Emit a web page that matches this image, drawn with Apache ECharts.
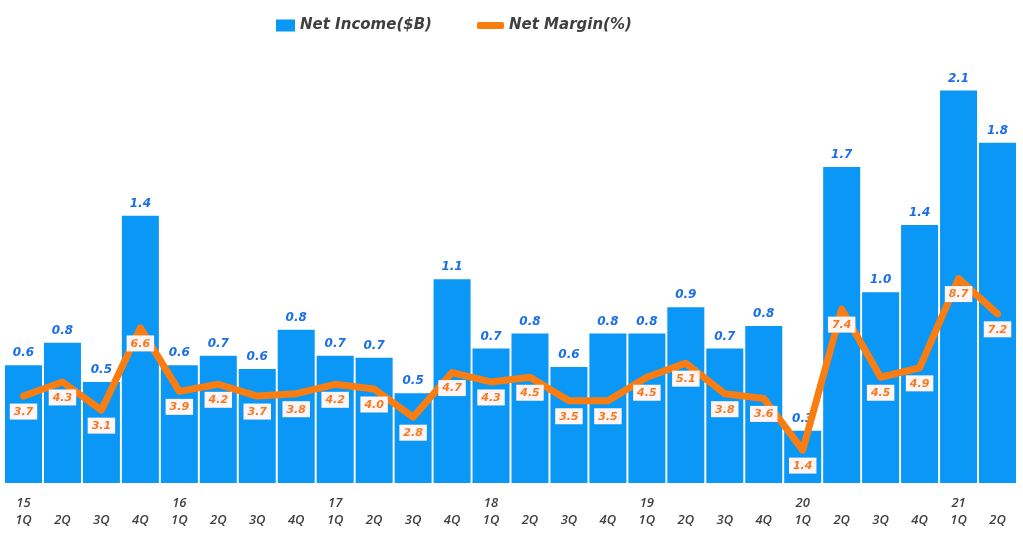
<!DOCTYPE html>
<html>
<head>
<meta charset="utf-8">
<script src="https://cdn.jsdelivr.net/npm/echarts@6/dist/echarts.min.js"></script>
<style>
html,body{margin:0;padding:0;background:#fff;}
#chart{width:1023px;height:535px;}
</style>
</head>
<body>
<div id="chart"></div>
<script>
const years = ['15','','','','16','','','','17','','','','18','','','','19','','','','20','','','','21',''];
const quarters = ['1Q','2Q','3Q','4Q','1Q','2Q','3Q','4Q','1Q','2Q','3Q','4Q','1Q','2Q','3Q','4Q','1Q','2Q','3Q','4Q','1Q','2Q','3Q','4Q','1Q','2Q'];
const netIncome = [0.63,0.75,0.54,1.43,0.63,0.68,0.61,0.82,0.68,0.67,0.48,1.09,0.72,0.80,0.62,0.80,0.80,0.94,0.72,0.84,0.28,1.69,1.02,1.38,2.10,1.82];
const netMargin = [3.7,4.3,3.1,6.6,3.9,4.2,3.7,3.8,4.2,4.0,2.8,4.7,4.3,4.5,3.5,3.5,4.5,5.1,3.8,3.6,1.4,7.4,4.5,4.9,8.7,7.2];

const categories = quarters.map((q, i) => years[i] + '\n' + q);

const chart = echarts.init(document.getElementById('chart'));
chart.setOption({
  animation: false,
  backgroundColor: '#ffffff',
  legend: [
    {
      data: ['Net Income($B)'],
      left: 271, top: 13,
      itemWidth: 19, itemHeight: 12,
      icon: 'rect',
      textStyle: {fontFamily: 'DejaVu Sans', fontSize: 15, fontWeight: 'bold', fontStyle: 'italic', color: '#404040'}
    },
    {
      data: ['Net Margin(%)'],
      left: 472, top: 13,
      itemWidth: 27, itemHeight: 7,
      icon: 'roundRect',
      textStyle: {fontFamily: 'DejaVu Sans', fontSize: 15, fontWeight: 'bold', fontStyle: 'italic', color: '#404040'}
    }
  ],
  grid: {left: 4, right: 6, top: 53, bottom: 52, containLabel: false},
  xAxis: {
    type: 'category',
    data: categories,
    axisLine: {show: false},
    axisTick: {show: false},
    axisLabel: {
      interval: 0,
      margin: 12,
      lineHeight: 17,
      fontFamily: 'Open Sans',
      fontSize: 13,
      fontWeight: 600,
      fontStyle: 'italic',
      color: '#404040'
    }
  },
  yAxis: [
    {type: 'value', min: 0, max: 2.3, show: false, splitLine: {show: false}},
    {type: 'value', min: 0, max: 18.3, show: false, splitLine: {show: false}}
  ],
  series: [
    {
      name: 'Net Income($B)',
      type: 'bar',
      data: netIncome,
      yAxisIndex: 0,
      barCategoryGap: '5%',
      itemStyle: {color: '#0a97f5'},
      label: {
        show: true,
        position: 'top',
        distance: 6,
        formatter: p => p.value.toFixed(1),
        fontFamily: 'DejaVu Sans',
        fontSize: 12,
        fontWeight: 'bold',
        fontStyle: 'italic',
        color: '#1a6fe6'
      }
    },
    {
      name: 'Net Margin(%)',
      type: 'line',
      data: netMargin,
      yAxisIndex: 1,
      symbol: 'circle',
      symbolSize: 1,
      showSymbol: true,
      lineStyle: {color: '#fa7d12', width: 7, join: 'round', cap: 'round'},
      itemStyle: {color: '#fa7d12'},
      z: 5,
      label: {
        show: true,
        position: 'bottom',
        distance: 7,
        formatter: p => p.value.toFixed(1),
        fontFamily: 'DejaVu Sans',
        fontSize: 11,
        fontWeight: 'bold',
        fontStyle: 'italic',
        color: '#f47a1f',
        backgroundColor: '#fff4f6',
        padding: [3, 4, 2, 4]
      }
    }
  ]
});
</script>
</body>
</html>
